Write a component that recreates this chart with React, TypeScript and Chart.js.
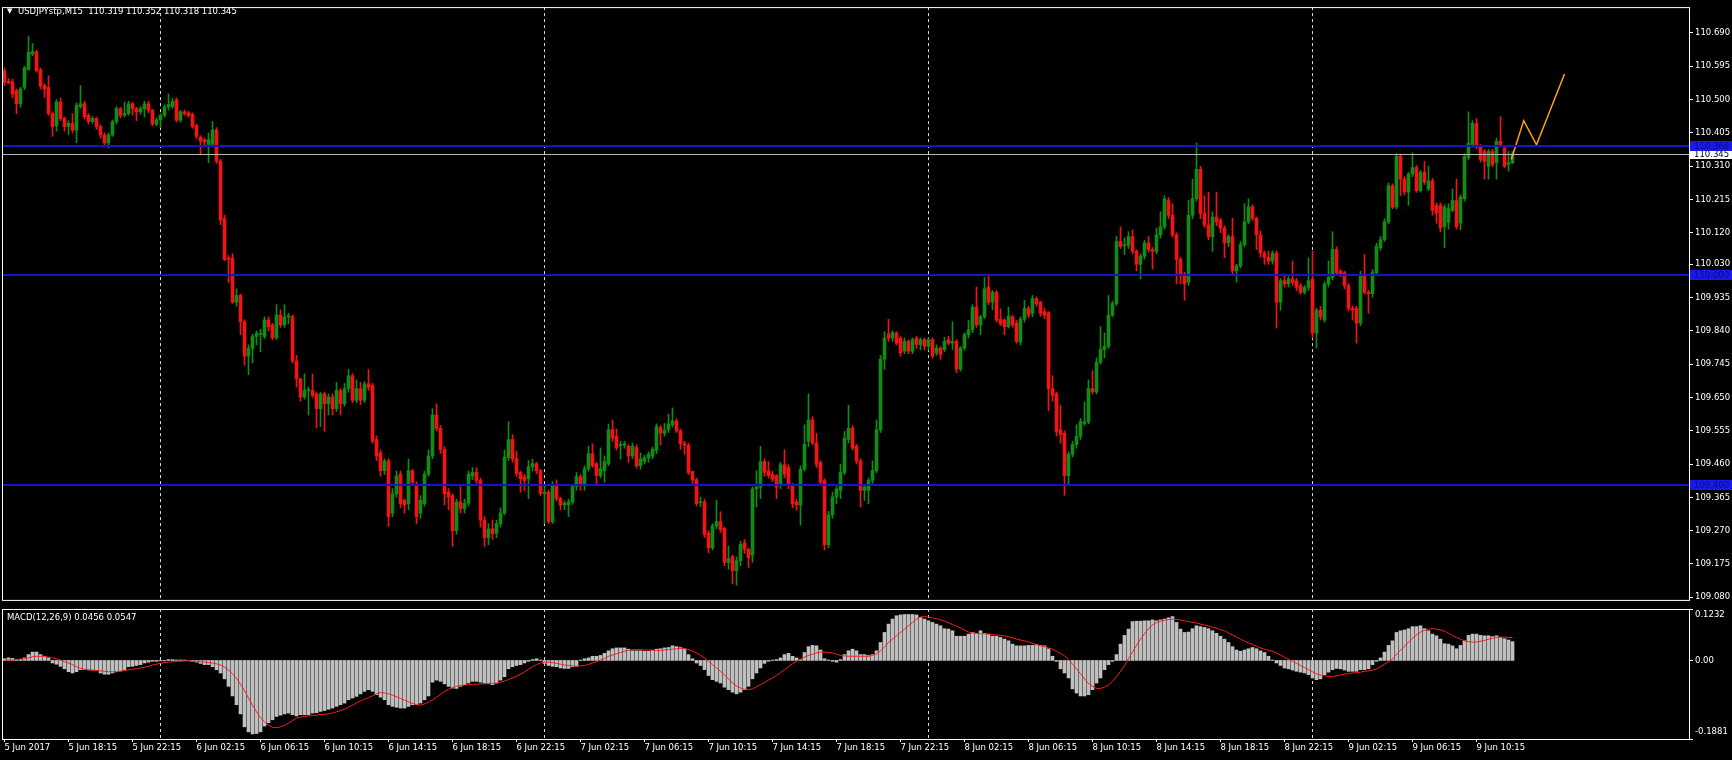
import React, { useEffect, useRef } from 'react';
import { Chart, registerables } from 'chart.js';

Chart.register(...registerables);

// ---------------- data ----------------
// Candle values are in points (0.001) above PRICE_BASE. Bar index 0 = 5 Jun 2017 14:15 (M15).
const PRICE_BASE = 109.0;

const opens: number[] = [
  1582,1552,1551,1525,1488,1535,1586,1630,1637,1585,
  1540,1535,1460,1425,1493,1446,1423,1432,1413,1480,
  1488,1455,1437,1446,1423,1399,1376,1399,1437,1474,
  1455,1460,1488,1474,1465,1474,1488,1469,1430,1442,
  1455,1479,1480,1499,1441,1465,1462,1458,1426,1392,
  1385,1372,1372,1413,1324,1160,1048,1048,922,941,
  866,768,790,824,830,824,871,857,820,885,
  857,880,880,754,703,651,670,670,660,618,
  660,632,651,618,670,632,675,712,642,675,
  642,689,684,530,492,441,469,320,375,431,
  357,347,441,403,320,347,431,483,600,562,
  502,380,370,270,352,333,348,426,436,413,
  300,250,275,262,290,320,478,530,476,436,
  424,418,452,461,441,376,380,296,399,361,
  344,343,352,396,424,403,446,490,461,427,
  441,461,558,539,513,514,511,483,507,455,
  468,478,483,499,564,548,558,572,583,555,
  518,514,439,415,350,352,263,221,283,296,
  277,179,196,156,184,235,217,200,389,394,
  467,440,431,427,399,458,450,399,352,343,
  445,525,586,520,464,413,230,315,366,385,
  436,530,562,511,469,385,385,413,441,558,
  759,831,819,833,819,782,810,782,819,801,
  815,796,815,777,791,787,815,805,810,731,
  791,829,843,908,857,880,965,922,950,873,
  871,852,880,862,808,873,904,890,932,922,
  895,892,675,661,558,548,427,488,516,539,
  576,581,675,666,750,787,796,885,918,1095,
  1083,1084,1109,1067,1030,1053,1091,1072,1067,1114,
  1137,1212,1170,1114,1044,1002,979,1170,1217,1301,
  1175,1142,1109,1165,1156,1133,1091,1109,1011,1025,
  1086,1151,1194,1161,1114,1062,1050,1039,1062,922,
  983,974,988,983,969,950,964,988,834,899,
  871,974,992,1072,1011,1006,969,904,904,862,
  997,950,946,1006,1077,1100,1151,1254,1193,1338,
  1273,1236,1287,1306,1240,1292,1245,1268,1198,1198,
  1137,1150,1184,1212,1147,1217,1334,1371,1432,1366,
  1352,1310,1352,1320,1381,1362,1315,1319,
];

const highs: number[] = [
  1590,1560,1558,1530,1535,1595,1680,1660,1640,1590,
  1545,1568,1465,1500,1505,1450,1440,1460,1490,1540,
  1495,1460,1452,1450,1428,1405,1405,1442,1480,1478,
  1493,1495,1492,1478,1480,1495,1495,1472,1448,1460,
  1485,1516,1503,1505,1470,1470,1466,1462,1430,1397,
  1390,1404,1437,1420,1330,1170,1055,1060,960,945,
  872,800,830,840,845,880,880,862,915,900,
  915,890,885,770,705,717,680,717,665,665,
  665,660,660,693,675,690,730,718,700,693,
  695,730,690,540,500,475,475,390,440,440,
  360,474,445,410,370,440,500,618,632,570,
  510,390,375,360,395,360,440,450,450,420,
  310,290,300,300,335,500,581,544,497,440,
  430,470,474,465,445,400,386,410,415,365,
  355,360,400,436,430,455,511,518,465,506,
  483,574,586,560,525,525,515,520,515,492,
  485,495,508,575,570,576,602,620,590,560,
  525,520,440,420,366,360,270,290,357,324,
  280,226,200,195,240,245,220,395,441,511,
  475,467,440,430,465,501,458,405,360,455,
  572,660,595,548,470,418,325,380,395,460,
  553,628,570,516,475,400,420,469,586,770,
  838,873,840,838,825,820,815,820,825,820,
  820,820,820,800,795,822,825,866,815,795,
  835,870,915,965,885,992,997,955,955,903,
  875,908,885,870,880,927,910,941,937,925,
  905,895,712,665,628,555,495,525,572,590,
  637,700,726,763,852,834,941,925,1110,1137,
  1105,1123,1128,1072,1060,1098,1109,1078,1133,1180,
  1226,1220,1203,1120,1050,1008,1212,1273,1376,1310,
  1226,1236,1180,1236,1161,1140,1115,1161,1030,1095,
  1203,1217,1200,1165,1125,1068,1068,1068,1068,990,
  1002,995,1039,990,975,970,1048,1067,905,910,
  980,1039,1123,1080,1015,1010,975,910,910,1010,
  1058,955,1015,1090,1110,1160,1262,1260,1345,1345,
  1280,1292,1348,1312,1298,1324,1310,1275,1205,1205,
  1200,1203,1245,1273,1228,1345,1465,1440,1446,1372,
  1358,1358,1358,1390,1451,1368,1352,1352,
];

const lows: number[] = [
  1540,1545,1505,1460,1478,1528,1583,1625,1578,1530,
  1506,1455,1395,1410,1440,1410,1400,1405,1377,1475,
  1445,1430,1432,1415,1390,1365,1362,1395,1430,1448,
  1450,1455,1455,1440,1458,1450,1462,1425,1425,1420,
  1450,1470,1475,1436,1436,1455,1450,1418,1388,1345,
  1365,1320,1365,1318,1143,1040,978,918,910,829,
  742,715,749,800,780,818,840,815,815,850,
  850,860,748,680,640,645,600,650,563,567,
  553,600,600,610,600,625,665,635,635,630,
  635,670,520,470,425,430,282,310,365,335,
  320,330,400,290,305,340,425,475,555,490,
  343,330,225,260,320,320,340,415,405,280,
  225,230,245,250,280,315,470,465,425,380,
  385,361,440,432,370,291,290,290,355,330,
  330,310,345,385,385,385,440,450,403,420,
  408,455,525,500,474,505,465,475,448,445,
  460,465,475,490,514,540,550,565,550,502,
  488,430,405,340,338,250,207,215,275,265,
  170,160,118,114,170,205,165,180,338,361,
  425,420,410,361,390,420,390,335,328,286,
  440,510,515,450,400,215,221,305,347,361,
  430,520,500,460,338,356,347,405,435,550,
  730,810,810,800,768,775,775,775,790,786,
  785,785,762,770,759,780,800,787,721,725,
  785,820,835,850,829,875,915,900,865,855,
  829,848,850,805,800,865,878,880,910,882,
  875,612,640,540,520,371,403,480,505,530,
  570,575,660,660,745,763,790,880,912,1075,
  1058,1075,1060,1011,988,1045,1065,1016,1060,1105,
  1130,1160,1108,974,974,927,970,1160,1210,1160,
  1135,1100,1067,1140,1120,1049,1080,1000,979,1020,
  1080,1145,1155,1072,1050,1030,1030,1030,848,899,
  965,965,970,955,945,945,955,820,791,871,
  865,965,985,1000,995,960,897,871,805,855,
  945,890,936,1000,1070,1095,1145,1188,1188,1226,
  1228,1198,1280,1235,1236,1258,1240,1170,1147,1123,
  1077,1130,1180,1130,1128,1210,1328,1365,1360,1322,
  1273,1273,1308,1273,1365,1306,1296,1318,
];

const closes: number[] = [
  1549,1548,1516,1488,1530,1590,1635,1637,1582,1539,
  1530,1460,1423,1493,1446,1423,1432,1413,1483,1488,
  1451,1437,1446,1423,1399,1376,1399,1437,1474,1455,
  1460,1488,1474,1465,1474,1488,1469,1430,1442,1455,
  1479,1486,1495,1441,1465,1460,1455,1423,1395,1381,
  1379,1386,1413,1324,1156,1044,1044,922,941,866,
  768,790,824,833,833,871,852,820,885,857,
  880,882,754,703,651,670,670,656,618,660,
  632,651,618,670,632,675,712,642,675,642,
  689,679,525,483,441,469,310,375,426,347,
  343,441,408,310,357,431,483,600,562,502,
  375,366,270,352,333,348,431,436,413,300,
  250,275,262,290,320,480,530,474,432,418,
  413,452,461,441,376,380,296,399,361,343,
  348,352,396,424,403,446,490,455,427,446,
  467,558,534,506,516,518,483,511,455,474,
  478,488,502,567,548,556,574,583,555,518,
  514,436,415,347,353,259,221,284,296,273,
  179,190,156,184,231,217,193,389,394,467,
  436,427,417,394,458,431,399,347,343,445,
  516,586,520,459,408,230,315,366,389,436,
  534,562,506,469,385,394,413,441,558,759,
  819,819,835,805,777,810,782,815,801,815,
  796,815,768,791,773,810,805,810,731,791,
  829,843,908,857,880,960,922,950,871,861,
  852,882,857,810,873,904,885,932,918,890,
  885,675,656,553,544,427,488,516,539,581,
  581,675,666,750,787,796,885,918,1095,1081,
  1084,1109,1067,1030,1053,1091,1072,1067,1114,1137,
  1217,1170,1114,1044,997,974,1170,1217,1301,1175,
  1142,1109,1165,1151,1133,1091,1109,1011,1025,1086,
  1151,1194,1161,1114,1062,1050,1039,1062,922,983,
  974,988,978,964,950,964,983,834,899,880,
  974,992,1072,1006,1002,969,904,899,862,1002,
  950,946,1006,1081,1100,1151,1254,1193,1338,1273,
  1236,1287,1306,1240,1292,1264,1268,1184,1175,1133,
  1193,1189,1212,1137,1222,1338,1376,1432,1366,1329,
  1324,1352,1315,1381,1371,1310,1320,1345,
];

// MACD(12,26,9) values, in units of MACD_UNIT
const MACD_UNIT = 0.001;
const macdMain: number[] = [
  4,6,5,2,3,6,14,20,20,14,
  10,6,-6,-9,-14,-20,-27,-30,-27,-22,
  -22,-23,-23,-23,-30,-33,-33,-30,-27,-25,
  -22,-15,-14,-12,-10,-6,-4,-2,-2,-1,
  -1,2,2,1,1,1,0,-2,-4,-7,
  -10,-10,-15,-22,-30,-44,-62,-85,-106,-128,
  -159,-171,-176,-175,-171,-157,-149,-142,-134,-131,
  -128,-126,-130,-133,-130,-130,-130,-126,-125,-122,
  -120,-117,-114,-110,-106,-102,-94,-90,-86,-80,
  -74,-70,-74,-82,-88,-94,-106,-110,-112,-114,
  -114,-110,-106,-106,-102,-94,-85,-52,-47,-50,
  -56,-62,-66,-67,-62,-58,-54,-50,-50,-52,
  -54,-56,-58,-54,-47,-39,-20,-15,-12,-10,
  -6,-2,2,4,1,-7,-12,-14,-15,-18,
  -19,-19,-15,-14,1,4,6,10,10,12,
  17,23,28,30,30,30,27,23,23,23,
  22,22,24,27,28,30,31,35,33,31,
  28,14,4,-6,-12,-22,-36,-46,-50,-54,
  -64,-70,-76,-80,-76,-70,-62,-44,-30,-18,
  -7,-2,1,2,6,14,17,10,6,2,
  19,33,36,35,25,4,1,-2,-4,2,
  14,23,27,23,14,14,12,14,23,43,
  67,87,99,107,109,110,110,110,109,103,
  99,95,91,87,83,76,75,71,58,58,
  58,63,67,65,71,65,63,58,58,55,
  51,47,39,35,35,35,36,36,38,36,
  35,28,10,-2,-20,-30,-42,-68,-78,-85,
  -85,-82,-70,-54,-42,-22,-10,-2,14,39,
  60,75,93,94,94,95,95,97,95,97,
  99,102,105,91,75,67,68,76,83,81,
  79,76,71,65,58,51,43,33,25,22,
  25,28,31,28,23,19,10,1,-6,-12,
  -18,-20,-23,-26,-28,-30,-34,-42,-46,-44,
  -34,-28,-22,-19,-20,-23,-26,-26,-26,-22,
  -22,-20,-10,-2,6,20,36,47,67,71,
  73,76,81,81,83,76,71,63,59,51,
  40,39,35,28,36,47,60,63,63,60,
  59,59,57,59,55,52,49,45,
];

const macdSignal: number[] = [
  1,1,1,2,3,4,6,9,10,10,
  10,8,6,4,1,-3,-6,-10,-15,-19,
  -21,-22,-23,-24,-25,-26,-27,-27,-27,-26,
  -24,-23,-21,-20,-18,-16,-14,-11,-9,-7,
  -5,-4,-3,-2,-2,-1,-1,-2,-2,-3,
  -4,-5,-6,-8,-11,-16,-23,-32,-43,-57,
  -72,-90,-107,-123,-137,-147,-155,-160,-161,-159,
  -155,-150,-144,-138,-136,-134,-133,-132,-131,-130,
  -129,-128,-126,-123,-120,-117,-112,-107,-102,-97,
  -93,-89,-85,-80,-77,-78,-80,-83,-87,-91,
  -95,-99,-103,-106,-107,-104,-100,-95,-88,-81,
  -74,-69,-65,-62,-60,-59,-58,-57,-57,-56,
  -56,-55,-55,-54,-52,-49,-46,-42,-38,-33,
  -27,-21,-15,-10,-6,-4,-4,-5,-7,-9,
  -11,-12,-13,-14,-13,-12,-10,-6,-3,1,
  5,10,13,16,19,22,24,26,26,26,
  25,25,25,24,24,25,26,27,28,29,
  28,26,22,18,12,6,-2,-10,-18,-26,
  -35,-44,-54,-61,-66,-69,-70,-68,-63,-58,
  -53,-47,-42,-36,-29,-22,-15,-8,-2,3,
  8,12,15,18,20,20,19,18,15,12,
  11,10,10,10,10,10,10,12,16,23,
  32,43,51,59,67,75,83,91,99,104,
  105,104,102,100,97,94,90,86,82,78,
  73,68,66,65,64,64,63,62,61,60,
  59,57,54,51,49,47,44,41,38,35,
  33,30,27,22,17,11,2,-9,-20,-32,
  -44,-55,-62,-67,-67,-64,-59,-50,-39,-26,
  -12,4,20,36,51,64,76,85,91,94,
  96,98,99,98,97,95,93,91,90,87,
  85,83,80,77,74,71,66,61,56,51,
  46,42,38,34,30,27,24,22,18,13,
  7,3,-2,-7,-12,-17,-22,-27,-32,-35,
  -37,-38,-38,-37,-35,-33,-31,-30,-29,-28,
  -26,-25,-23,-20,-15,-9,-3,3,15,24,
  34,44,53,61,68,72,75,76,75,73,
  70,65,60,55,51,47,45,44,44,46,
  48,51,53,55,56,56,55,55,
];

// price axis
const priceTicks = [110.690, 110.595, 110.500, 110.405, 110.310, 110.215, 110.120, 110.030,
  109.935, 109.840, 109.745, 109.650, 109.555, 109.460, 109.365, 109.270, 109.175, 109.080];
const Y_MIN = 109.0724;
const Y_MAX = 110.7638;

// horizontal levels and current bid
const levelLines = [110.368, 110.000, 109.400];
const currentPrice = 110.345;

// hand-drawn projection (orange) : bar positions & prices
const projectionX = [376.7, 379.8, 383.0, 390.0];
const projectionY = [110.329, 110.440, 110.371, 110.573];

// day separators (bar index of 00:00)
const separatorBars = [39, 135, 231, 327];

// time axis
const timeTickBars = [0,16,32,48,64,80,96,112,128,144,160,176,192,208,224,240,256,272,288,304,320,336,352,368];
const timeTickLabels = ['5 Jun 2017','5 Jun 18:15','5 Jun 22:15','6 Jun 02:15','6 Jun 06:15','6 Jun 10:15',
  '6 Jun 14:15','6 Jun 18:15','6 Jun 22:15','7 Jun 02:15','7 Jun 06:15','7 Jun 10:15','7 Jun 14:15',
  '7 Jun 18:15','7 Jun 22:15','8 Jun 02:15','8 Jun 06:15','8 Jun 10:15','8 Jun 14:15','8 Jun 18:15',
  '8 Jun 22:15','9 Jun 02:15','9 Jun 06:15','9 Jun 10:15'];
const X_MIN = -0.625;
const X_MAX = 421.125;

// MACD axis
const MACD_MIN = -0.1881;
const MACD_MAX = 0.1232;
const macdTicks = [0.1232, 0, -0.1881];
const macdTickLabels = ['0.1232', '0.00', '-0.1881'];

const headerText = 'USDJPYstp,M15  110.319 110.352 110.318 110.345';
const macdText = 'MACD(12,26,9) 0.0456 0.0547';

// ---------------- styles ----------------
const FONT = "'DejaVu Sans', Verdana, sans-serif";
const FONT_SIZE = 8.5;
const BULL = '#138c13';
const BEAR = '#f01414';
const LEVEL = '#1414cc';
const WHITE = '#ffffff';

const price = (p: number) => PRICE_BASE + p / 1000;

export default function App() {
  const mainRef = useRef<HTMLCanvasElement>(null);
  const macdRef = useRef<HTMLCanvasElement>(null);

  useEffect(() => {
    const idx = opens.map((_, i) => i);
    const colors = idx.map((i) => (closes[i] >= opens[i] ? BULL : BEAR));

    const separatorPlugin = {
      id: 'separators',
      beforeDatasetsDraw(chart: any) {
        const { ctx, chartArea: a, scales } = chart;
        ctx.save();
        ctx.strokeStyle = '#d8d8d8';
        ctx.lineWidth = 1;
        ctx.setLineDash([3, 3]);
        separatorBars.forEach((b) => {
          const px = Math.floor(scales.x.getPixelForValue(b)) + 0.5;
          ctx.beginPath();
          ctx.moveTo(px, a.top);
          ctx.lineTo(px, a.bottom);
          ctx.stroke();
        });
        ctx.restore();
      },
    };

    const mainPlugin = {
      id: 'mainDecor',
      afterDatasetsDraw(chart: any) {
        const { ctx, chartArea: a, scales } = chart;
        ctx.save();
        const cp = Math.round(scales.y.getPixelForValue(currentPrice)) + 0.5;
        ctx.strokeStyle = '#b8b8b8';
        ctx.lineWidth = 1;
        ctx.beginPath();
        ctx.moveTo(a.left, cp);
        ctx.lineTo(a.right, cp);
        ctx.stroke();
        ctx.fillStyle = LEVEL;
        levelLines.forEach((v) => {
          const py = Math.round(scales.y.getPixelForValue(v));
          ctx.fillRect(a.left, py - 1, a.right - a.left, 2);
        });
        ctx.restore();
      },
      afterDraw(chart: any) {
        const { ctx, chartArea: a, scales, width } = chart;
        ctx.save();
        ctx.strokeStyle = WHITE;
        ctx.lineWidth = 1;
        ctx.strokeRect(a.left + 0.5, a.top + 0.5, a.right - a.left, a.bottom - a.top);
        ctx.font = `${FONT_SIZE}px ${FONT}`;
        ctx.textBaseline = 'middle';
        ctx.textAlign = 'left';
        const cp = scales.y.getPixelForValue(currentPrice);
        ctx.fillStyle = WHITE;
        ctx.fillRect(a.right + 1, Math.round(cp) - 4, width - a.right - 1, 9);
        ctx.fillStyle = '#000000';
        ctx.fillText(currentPrice.toFixed(3), a.right + 5, Math.round(cp) + 0.5);
        levelLines.forEach((v) => {
          const py = Math.round(scales.y.getPixelForValue(v));
          ctx.fillStyle = '#1a1ae6';
          ctx.fillRect(a.right + 1, py - 5, width - a.right - 1, 10);
          ctx.fillStyle = '#0a0a8a';
          ctx.fillText(v.toFixed(3), a.right + 5, py + 0.5);
        });
        ctx.restore();
      },
    };

    const mainChart = new Chart(mainRef.current as HTMLCanvasElement, {
      type: 'bar',
      data: {
        datasets: [
          {
            type: 'line',
            data: projectionX.map((x, k) => ({ x, y: projectionY[k] })),
            borderColor: '#ffa500',
            borderWidth: 1.5,
            pointRadius: 0,
            tension: 0,
            order: 0,
          } as any,
          {
            type: 'bar',
            data: idx.map((i) => ({ x: i, y: [price(opens[i]), price(closes[i])] })),
            backgroundColor: colors,
            barThickness: 3,
            minBarLength: 1,
            grouped: false,
            order: 1,
          } as any,
          {
            type: 'bar',
            data: idx.map((i) => ({ x: i, y: [price(lows[i]), price(highs[i])] })),
            backgroundColor: colors,
            barThickness: 1,
            grouped: false,
            order: 2,
          } as any,
        ],
      },
      options: {
        responsive: false,
        animation: false,
        devicePixelRatio: 1,
        events: [],
        layout: { padding: { left: 2, top: 2, right: 0, bottom: 2 } },
        plugins: { legend: { display: false }, tooltip: { enabled: false } },
        scales: {
          x: {
            type: 'linear',
            display: false,
            min: X_MIN,
            max: X_MAX,
            offset: false,
            grid: { offset: false },
          },
          y: {
            type: 'linear',
            position: 'right',
            min: Y_MIN,
            max: Y_MAX,
            afterBuildTicks: (s: any) => {
              s.ticks = priceTicks.map((v) => ({ value: v }));
            },
            afterFit: (s: any) => {
              s.width = 43;
            },
            ticks: {
              color: WHITE,
              padding: 2,
              font: { family: FONT, size: FONT_SIZE },
              callback: (v: any) => Number(v).toFixed(3),
              autoSkip: false,
            },
            grid: { display: true, drawOnChartArea: false, drawTicks: true, tickLength: 4, color: WHITE },
            border: { display: false },
          },
        },
      } as any,
      plugins: [separatorPlugin, mainPlugin],
    });

    const macdPlugin = {
      id: 'macdDecor',
      afterDraw(chart: any) {
        const { ctx, chartArea: a, scales } = chart;
        ctx.save();
        ctx.strokeStyle = WHITE;
        ctx.lineWidth = 1;
        ctx.strokeRect(a.left + 0.5, a.top + 0.5, a.right - a.left, a.bottom - a.top);
        ctx.font = `${FONT_SIZE}px ${FONT}`;
        ctx.fillStyle = WHITE;
        ctx.textAlign = 'left';
        ctx.textBaseline = 'middle';
        macdTicks.forEach((v, k) => {
          const py = scales.y.getPixelForValue(v);
          const tickY = Math.min(Math.max(Math.round(py), a.top), a.bottom) + 0.5;
          ctx.beginPath();
          ctx.moveTo(a.right + 1, tickY);
          ctx.lineTo(a.right + 4, tickY);
          ctx.stroke();
          const ty = Math.min(Math.max(py, a.top + 6), a.bottom - 7);
          ctx.fillText(macdTickLabels[k], a.right + 6, ty);
        });
        ctx.restore();
      },
    };

    const macdChart = new Chart(macdRef.current as HTMLCanvasElement, {
      type: 'bar',
      data: {
        datasets: [
          {
            type: 'line',
            data: idx.map((i) => ({ x: i, y: macdSignal[i] * MACD_UNIT })),
            borderColor: '#ff1a1a',
            borderWidth: 1,
            pointRadius: 0,
            tension: 0,
            order: 0,
          } as any,
          {
            type: 'bar',
            data: idx.map((i) => ({ x: i, y: macdMain[i] * MACD_UNIT })),
            backgroundColor: '#c0c0c0',
            barThickness: 3,
            grouped: false,
            order: 1,
          } as any,
        ],
      },
      options: {
        responsive: false,
        animation: false,
        devicePixelRatio: 1,
        events: [],
        layout: { padding: { left: 2, top: 2, right: 43, bottom: 0 } },
        plugins: { legend: { display: false }, tooltip: { enabled: false } },
        scales: {
          x: {
            type: 'linear',
            min: X_MIN,
            max: X_MAX,
            offset: false,
            afterBuildTicks: (s: any) => {
              s.ticks = timeTickBars.map((v) => ({ value: v }));
            },
            afterFit: (s: any) => {
              s.height = 21;
            },
            ticks: {
              color: WHITE,
              align: 'start',
              autoSkip: false,
              maxRotation: 0,
              minRotation: 0,
              padding: 1,
              font: { family: FONT, size: FONT_SIZE },
              callback: (_v: any, i: number) => timeTickLabels[i],
            },
            grid: { display: true, offset: false, drawOnChartArea: false, drawTicks: true, tickLength: 3, color: WHITE },
            border: { display: false },
          },
          y: {
            type: 'linear',
            display: false,
            min: MACD_MIN,
            max: MACD_MAX,
          },
        },
      } as any,
      plugins: [separatorPlugin, macdPlugin],
    });

    return () => {
      mainChart.destroy();
      macdChart.destroy();
    };
  }, []);

  const textStyle: React.CSSProperties = {
    position: 'absolute',
    color: WHITE,
    fontFamily: FONT,
    fontSize: FONT_SIZE,
    whiteSpace: 'pre',
    lineHeight: '10px',
  };

  return (
    <div style={{ position: 'fixed', left: 0, top: 0, width: 1732, height: 760, background: '#000', overflow: 'hidden' }}>
      <canvas ref={mainRef} width={1732} height={607} style={{ position: 'absolute', left: 0, top: 0, width: 1732, height: 607 }} />
      <canvas ref={macdRef} width={1732} height={153} style={{ position: 'absolute', left: 0, top: 607, width: 1732, height: 153 }} />
      <div style={{ ...textStyle, left: 7, top: 6, fontSize: 7 }}>{'\u25BC'}</div>
      <div style={{ ...textStyle, left: 18, top: 6 }}>{headerText}</div>
      <div style={{ ...textStyle, left: 7, top: 612 }}>{macdText}</div>
    </div>
  );
}
